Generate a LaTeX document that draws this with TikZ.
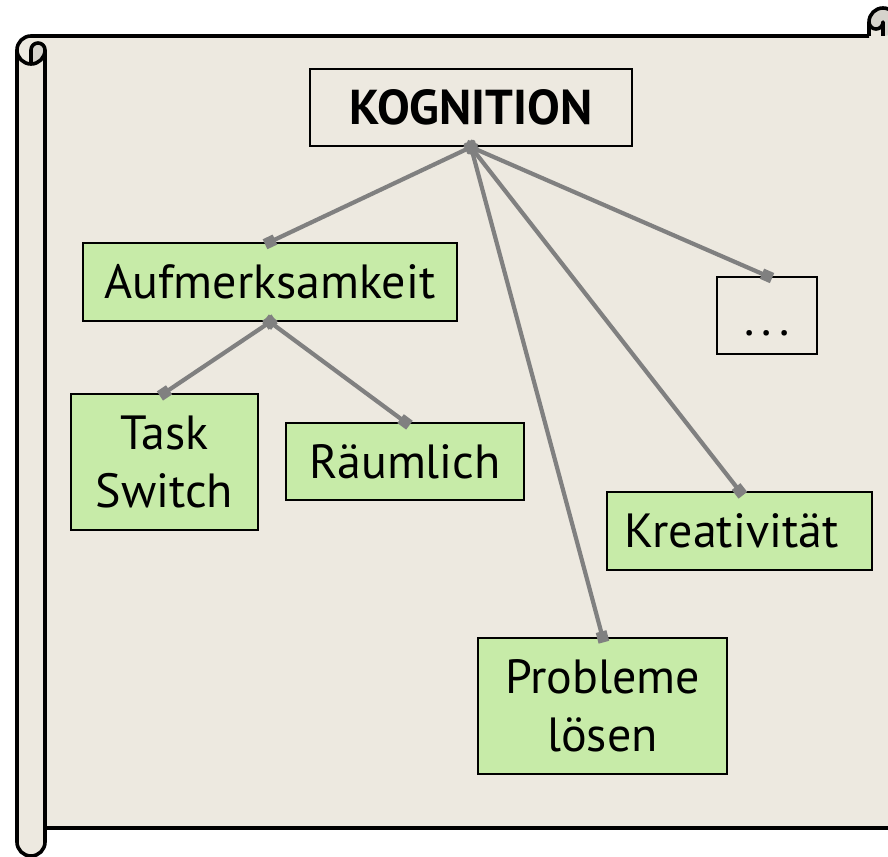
\documentclass[tikz,border=0pt]{standalone}
\usepackage{fontspec}
\setmainfont{PT Sans}
\usetikzlibrary{arrows.meta}
\definecolor{paper}{RGB}{237,233,224}
\definecolor{curl}{RGB}{214,211,204}
\definecolor{leaf}{RGB}{199,235,168}
\definecolor{conn}{RGB}{128,128,128}
\tikzset{
  outline/.style={draw=black,line width=3.6pt,line join=round},
  box/.style={draw=black,line width=2.2pt,rectangle,inner sep=0pt,align=center,
    font=\fontsize{48}{58}\selectfont},
  leafbox/.style={box,fill=leaf},
  link/.style={draw=conn,line width=4.2pt,
    {Square[length=11pt,width=11pt]}-{Square[length=11pt,width=11pt]},
    shorten <=-5.5pt,shorten >=-5.5pt}
}
\begin{document}
\begin{tikzpicture}[x=1pt,y=-1pt]
\useasboundingbox (0,0) rectangle (888,856);
\clip (0,0) rectangle (888,856);
\fill[white] (0,0) rectangle (888,856);
% scroll body
\fill[paper] (17,50) arc[start angle=180,end angle=90,radius=14pt] -- (869,36) -- (869,22)
  arc[start angle=180,end angle=0,radius=14pt] -- (897,828) -- (45,828) -- (45,842)
  arc[start angle=0,end angle=-180,radius=14pt] -- cycle;
% darkened curls
\fill[curl] (31,64) arc[start angle=-90,end angle=0,radius=14pt]
  arc[start angle=0,end angle=180,radius=7pt] -- cycle;
\fill[curl] (883,36) arc[start angle=-90,end angle=180,radius=14pt]
  arc[start angle=180,end angle=360,radius=7pt] -- cycle;
% outlines
\draw[outline] (869,36) -- (31,36) arc[start angle=90,end angle=180,radius=14pt]
  -- (17,842) arc[start angle=180,end angle=360,radius=14pt] -- (45,50)
  arc[start angle=0,end angle=180,radius=7pt] -- (31,64);
\draw[outline] (17,50) arc[start angle=180,end angle=360,radius=14pt];
\draw[outline] (45,828) -- (900,828);
\draw[outline] (869,36) -- (869,22) arc[start angle=180,end angle=0,radius=14pt] -- (897,40);
\draw[outline] (869,22) arc[start angle=180,end angle=360,radius=7pt] -- (883,36);
% nodes
\node[box,minimum width=322pt,minimum height=77pt,font=\fontsize{49}{58}\bfseries] (kog) at (471,107.5) {KOGNITION};
\node[leafbox,minimum width=374pt,minimum height=78pt] (auf) at (270,282) {Aufmerksamkeit};
\node[box,minimum width=100pt,minimum height=77pt] (more) at (767,315.5) {\vphantom{Ag}\raisebox{-8pt}{.\hspace{7pt}.\hspace{7pt}.}};
\node[leafbox,minimum width=187pt,minimum height=136pt] (task) at (164.5,462) {Task\\Switch};
\node[leafbox,minimum width=238pt,minimum height=77pt] (raum) at (405,461.5) {Räumlich};
\node[leafbox,minimum width=265pt,minimum height=78pt] (krea) at (739.5,531) {Kreativität\hspace*{16pt}};
\node[leafbox,minimum width=249pt,minimum height=136pt] (prob) at (602.5,706) {Probleme\\lösen};
% connectors
\draw[link] (kog.south) -- (auf.north);
\draw[link] (kog.south) -- (more.north);
\draw[link] (kog.south) -- (krea.north);
\draw[link] (kog.south) -- (prob.north);
\draw[link] (auf.south) -- (task.north);
\draw[link] (auf.south) -- (raum.north);
\end{tikzpicture}
\end{document}
